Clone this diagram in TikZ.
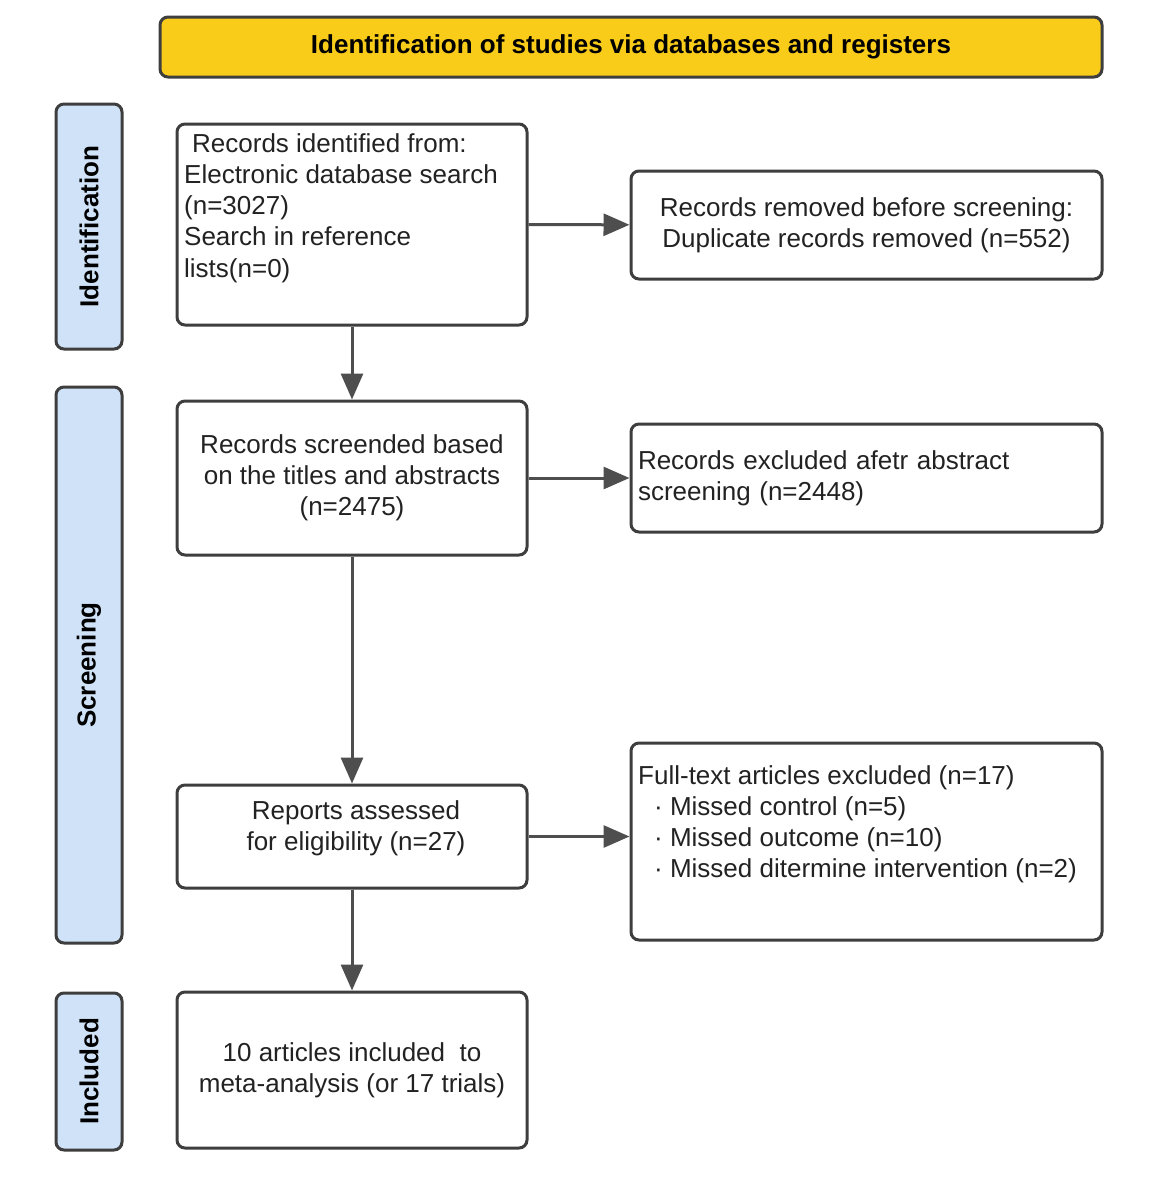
\documentclass[tikz,border=0pt]{standalone}
\usepackage{fontspec}
\setmainfont{Liberation Sans}
\usetikzlibrary{arrows.meta}

\definecolor{headyellow}{HTML}{F9CC1A}
\definecolor{phaseblue}{HTML}{CFE2F8}
\definecolor{edgegray}{HTML}{3E3E3E}
\definecolor{arrowgray}{HTML}{4E4E4E}
\definecolor{inkgray}{HTML}{222222}

\begin{document}
\begin{tikzpicture}[x=1pt,y=-1pt,
    box/.style={draw=edgegray, line width=3pt, rounded corners=8pt, fill=white, inner sep=0pt,
        text=inkgray, font=\fontsize{26}{31.25}\selectfont},
    phase/.style={box, fill=phaseblue, rotate=90, minimum height=66pt, text=black,
        font=\fontsize{26}{31.25}\selectfont\bfseries},
    txt/.style={inner sep=0pt, text=inkgray, font=\fontsize{26}{31.25}\selectfont},
    flow/.style={draw=arrowgray, line width=3pt, -{Triangle[length=26pt,width=22pt]}}]

    \useasboundingbox (0,0) rectangle (1152,1200);

    % header and phases
    \node[box, fill=headyellow, minimum width=942pt, minimum height=60pt, text=black,
        font=\fontsize{26}{31.25}\selectfont\bfseries] (head) at (631,47) {Identification of studies via databases and registers};
    \node[phase, minimum width=245pt] (idphase) at (89,226.5) {Identification};
    \node[phase, minimum width=556pt] (scphase) at (89,665) {Screening};
    \node[phase, minimum width=157pt] (inphase) at (89,1071.5) {Included};

    % left column
    \node[box, minimum width=350pt, minimum height=201pt] (recs) at (352,224.5) {};
    \node[txt, anchor=north west, align=left] (recstxt) at (184,133) {\hspace*{8pt}Records identified from:\\Electronic database search\\(n=3027)\\Search in reference\\lists(n=0)};
    \node[box, minimum width=350pt, minimum height=154pt, align=center] (screened) at (352,478) {Records screended based\\on the titles and abstracts\\(n=2475)};
    \node[box, minimum width=350pt, minimum height=103pt] (reports) at (352,836.5) {};
    \node[txt, align=center] (reportstxt) at (356,828) {Reports assessed\\for eligibility (n=27)};
    \node[box, minimum width=350pt, minimum height=156pt, align=center] (included) at (352,1070) {10 articles included\ \ to\\meta-analysis (or 17 trials)};

    % right column
    \node[box, minimum width=471pt, minimum height=108pt, align=center] (removed) at (866.5,225) {Records removed before screening:\\Duplicate records removed (n=552)};
    \node[box, minimum width=471pt, minimum height=108pt, align=left, text width=457pt] (excluded) at (866.5,478) {Records excluded afetr abstract\\screening (n=2448)};
    \node[box, minimum width=471pt, minimum height=197pt] (fulltext) at (866.5,841.5) {};
    \node[txt, anchor=north west, align=left] (fulltexttxt) at (638,765) {Full-text articles excluded (n=17)\\\hspace*{16pt}· Missed control (n=5)\\\hspace*{16pt}· Missed outcome (n=10)\\\hspace*{16pt}· Missed ditermine intervention (n=2)};

    % arrows
    \draw[flow] (recs) -- (removed);
    \draw[flow] (screened) -- (excluded);
    \draw[flow] (reports.east) -- (reports.east -| fulltext.west);
    \draw[flow] (recs) -- (screened);
    \draw[flow] (screened) -- (reports);
    \draw[flow] (reports) -- (included);

\end{tikzpicture}
\end{document}
